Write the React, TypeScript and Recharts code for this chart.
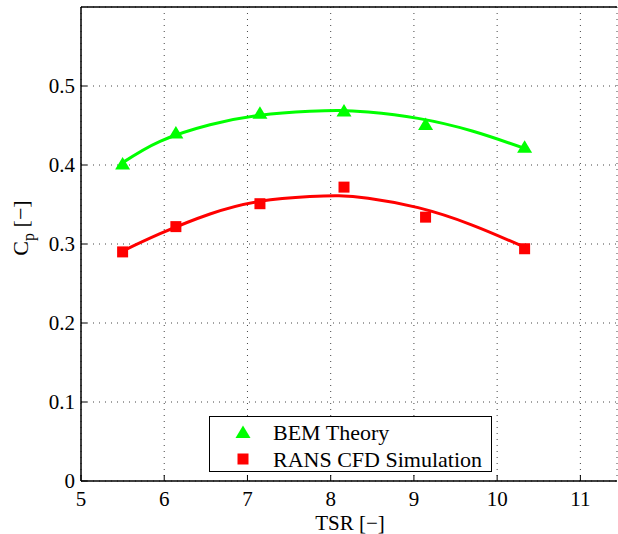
import { ComposedChart, Line, Scatter, XAxis, YAxis, CartesianGrid, ReferenceLine, Legend } from "recharts"

const tsr = [5.5, 6.14, 7.15, 8.16, 9.14, 10.33]
const bemCp = [0.402, 0.441, 0.466, 0.469, 0.452, 0.423]
const ransCp = [0.29, 0.322, 0.351, 0.372, 0.334, 0.294]

const fitTsr = [5.5, 5.95, 6.55, 7.15, 7.75, 8.1, 8.45, 9.05, 9.7, 10.33]
const bemFit = [0.403, 0.43, 0.451, 0.463, 0.468, 0.469, 0.467, 0.459, 0.443, 0.421]
const ransFit = [0.291, 0.313, 0.338, 0.354, 0.36, 0.361, 0.358, 0.346, 0.324, 0.296]

const xTicks = [5, 6, 7, 8, 9, 10, 11]
const yTicks = [0, 0.1, 0.2, 0.3, 0.4, 0.5]

const GREEN = "#00ff00"
const RED = "#ff0000"
const FONT = "'Liberation Serif', 'Times New Roman', serif"

const bemPts = tsr.map((x, i) => ({ x, y: bemCp[i] }))
const ransPts = tsr.map((x, i) => ({ x, y: ransCp[i] }))
const bemCurve = fitTsr.map((x, i) => ({ x, y: bemFit[i] }))
const ransCurve = fitTsr.map((x, i) => ({ x, y: ransFit[i] }))

const Triangle = ({ cx, cy }: any) => (
  <polygon points={`${cx - 7.5},${cy + 6} ${cx + 7.5},${cy + 6} ${cx},${cy - 6.5}`} fill={GREEN} />
)
const Square = ({ cx, cy }: any) => <rect x={cx - 5.5} y={cy - 5.5} width={11} height={11} fill={RED} />

const XTick = ({ x, y, payload }: any) => (
  <g>
    <line x1={x} x2={x} y1={y} y2={y - 6} stroke="#000" strokeWidth={1} />
    <text x={x} y={y + 25} textAnchor="middle" fontFamily={FONT} fontSize={21} fill="#000">
      {payload.value}
    </text>
  </g>
)

const YTick = ({ x, y, payload }: any) => (
  <g>
    <line x1={x} x2={x + 6} y1={y} y2={y} stroke="#000" strokeWidth={1} />
    <text x={x - 6} y={y + 7} textAnchor="end" fontFamily={FONT} fontSize={21} fill="#000">
      {payload.value}
    </text>
  </g>
)

const LegendBox = () => (
  <div
    style={{
      width: 281,
      height: 54,
      border: "1.5px solid #000",
      background: "#fff",
      position: "relative",
    }}
  >
    <svg width={281} height={54} style={{ position: "absolute", left: 0, top: 0 }}>
      <Triangle cx={33} cy={15} />
      <Square cx={33} cy={42} />
      <text x={63} y={23} fontFamily={FONT} fontSize={22}>BEM Theory</text>
      <text x={63} y={50} fontFamily={FONT} fontSize={22}>RANS CFD Simulation</text>
    </svg>
  </div>
)

const CpLabel = () => (
  <text x={0} y={0} transform="translate(28, 228) rotate(-90)" textAnchor="middle" fontFamily={FONT} fontSize={22} fill="#000">
    C<tspan fontSize={16} dy={6}>p</tspan>
    <tspan dy={-6}> [−]</tspan>
  </text>
)

export default function App() {
  return (
    <div style={{ position: "absolute", left: 0, top: 0, width: 618, height: 534, background: "#fff" }}>
      <ComposedChart width={618} height={534} margin={{ top: 7, right: 1, left: 0, bottom: 0 }}>
        <CartesianGrid stroke="#444" strokeDasharray="1 5" vertical horizontal />
        <XAxis
          type="number"
          dataKey="x"
          domain={[5, 11.44]}
          ticks={xTicks}
          allowDataOverflow
          height={53}
          tickSize={0}
          tickMargin={0}
          tickLine={false}
          tick={<XTick />}
          axisLine={{ stroke: "#000", strokeWidth: 1.5 }}
          label={{
            content: () => (
              <text x={350} y={530} textAnchor="middle" fontFamily={FONT} fontSize={21} fill="#000">
                TSR [−]
              </text>
            ),
          }}
        />
        <YAxis
          type="number"
          dataKey="y"
          domain={[0, 0.6]}
          ticks={yTicks}
          allowDataOverflow
          width={81}
          tickSize={0}
          tickMargin={0}
          tickLine={false}
          tick={<YTick />}
          axisLine={{ stroke: "#000", strokeWidth: 1.5 }}
          label={{ content: () => <CpLabel /> }}
        />
        <ReferenceLine y={0.6} stroke="#000" strokeWidth={1.5} />
        <Line data={bemCurve} dataKey="y" type="natural" stroke={GREEN} strokeWidth={3} dot={false} isAnimationActive={false} legendType="none" />
        <Line data={ransCurve} dataKey="y" type="natural" stroke={RED} strokeWidth={3} dot={false} isAnimationActive={false} legendType="none" />
        <Scatter data={bemPts} dataKey="y" name="BEM Theory" shape={<Triangle />} isAnimationActive={false} />
        <Scatter data={ransPts} dataKey="y" name="RANS CFD Simulation" shape={<Square />} isAnimationActive={false} />
        <Legend
          layout="vertical"
          align="center"
          verticalAlign="middle"
          content={() => <LegendBox />}
          wrapperStyle={{ left: 209, top: 416, width: 284, height: 57 }}
        />
      </ComposedChart>
    </div>
  )
}
